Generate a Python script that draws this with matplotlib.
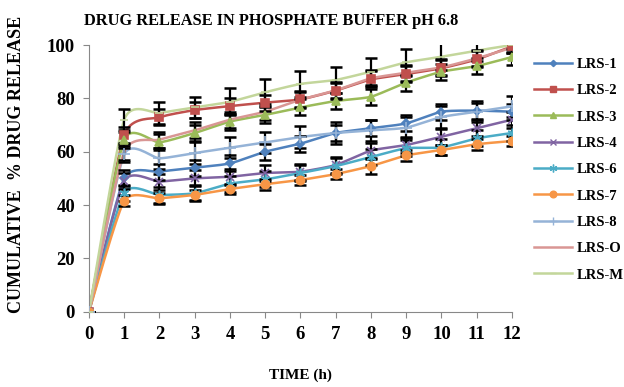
import numpy as np
import matplotlib
matplotlib.use("Agg")
import matplotlib.pyplot as plt

# time points (h)
time_h = [0, 1, 2, 3, 4, 5, 6, 7, 8, 9, 10, 11, 12]

# cumulative % drug release
lrs_1 = [0, 50.0, 52.5, 54.0, 55.6, 60.0, 63.0, 67.0, 68.8, 70.6, 75.0, 75.4, 75.0]
lrs_2 = [0, 66.3, 72.9, 75.6, 77.1, 78.4, 79.6, 82.9, 87.1, 89.1, 91.3, 94.6, 99.5]
lrs_3 = [0, 64.5, 63.5, 67.0, 71.3, 73.8, 76.6, 79.0, 80.6, 85.9, 90.0, 92.1, 95.5]
lrs_4 = [0, 49.0, 48.8, 50.0, 50.6, 52.0, 52.5, 55.0, 60.4, 62.5, 65.6, 68.8, 72.0]
lrs_6 = [0, 44.6, 43.8, 44.4, 48.0, 49.6, 52.0, 54.6, 58.0, 61.3, 61.6, 65.0, 67.0]
lrs_7 = [0, 41.6, 42.5, 43.8, 46.0, 47.8, 49.4, 51.6, 54.6, 58.6, 60.6, 62.8, 64.0]
lrs_8 = [0, 59.0, 57.5, 59.5, 61.5, 63.5, 65.5, 67.0, 68.0, 69.0, 73.0, 75.0, 77.0]
lrs_o = [0, 60.0, 64.5, 68.0, 72.0, 75.0, 79.5, 83.0, 87.5, 89.6, 91.6, 95.0, 99.0]
lrs_m = [0, 72.0, 74.5, 76.6, 78.7, 82.3, 85.4, 86.9, 90.0, 93.5, 95.6, 97.9, 100.0]

# standard deviations (approx.)
err_1 = [0, 3, 3, 3, 3, 3, 3, 3, 3, 3, 3, 3, 3]
err_2 = [0, 3, 3, 3, 3, 3, 3, 3, 3, 3, 3, 3, 2]
err_3 = [0, 3, 3, 3, 3, 3, 3, 3, 3, 3, 3, 3, 3]
err_4 = [0, 3, 3, 3, 3, 3, 3, 3, 3, 3, 3, 3, 3]
err_6 = [0, 3, 3, 3, 3, 3, 3, 3, 3, 3, 3, 3, 3]
err_7 = [0, 2, 2, 2, 2, 2, 2, 2, 3, 2, 2, 2, 2]
err_8 = [0, 3, 4, 4, 4, 4, 4, 4, 4, 4, 4, 4, 4]
err_o = [0, 3, 3, 3, 3, 3, 3, 3, 3, 3, 3, 3, 2]
err_m = [0, 4, 4, 4, 5, 5, 5, 5, 5, 5, 5, 4, 3]

labels = ["LRS-1", "LRS-2", "LRS-3", "LRS-4", "LRS-6", "LRS-7", "LRS-8", "LRS-O", "LRS-M"]
series = [lrs_1, lrs_2, lrs_3, lrs_4, lrs_6, lrs_7, lrs_8, lrs_o, lrs_m]
errors = [err_1, err_2, err_3, err_4, err_6, err_7, err_8, err_o, err_m]
colors = ["#4F81BD", "#C0504D", "#9BBB59", "#8064A2", "#4BACC6",
          "#F79646", "#95B3D7", "#D99694", "#C3D69B"]
markers = ["D", "s", "^", "x", (6, 2, 0), "o", "+", None, "_"]
msizes = [4, 6, 6, 6, 7, 6, 8, 0, 6]


def smooth(x, y, n=20, k=0.6):
    # cardinal spline through the points, like excel's smoothed lines
    x = np.asarray(x, float)
    y = np.asarray(y, float)
    px = np.concatenate([[x[0]], x, [x[-1]]])
    py = np.concatenate([[y[0]], y, [y[-1]]])
    xs, ys = [], []
    t = np.linspace(0, 1, n)
    h00 = 2 * t**3 - 3 * t**2 + 1
    h10 = t**3 - 2 * t**2 + t
    h01 = -2 * t**3 + 3 * t**2
    h11 = t**3 - t**2
    for i in range(1, len(px) - 2):
        for p, out in ((px, xs), (py, ys)):
            p0, p1, p2, p3 = p[i - 1], p[i], p[i + 1], p[i + 2]
            m1 = k * 0.5 * (p2 - p0)
            m2 = k * 0.5 * (p3 - p1)
            out.extend(h00 * p1 + h10 * m1 + h01 * p2 + h11 * m2)
    return xs, ys


plt.rcParams['font.family'] = ['Liberation Serif', 'DejaVu Serif']
plt.rcParams['font.weight'] = 'bold'

fig = plt.figure(figsize=(6.24, 3.87), dpi=100)
ax = fig.add_axes([0.1426, 0.1946, 0.6779, 0.6891])

handles = []
for vals, err, col, mk, ms, lab in zip(series, errors, colors, markers, msizes, labels):
    sx, sy = smooth(time_h, vals)
    ax.plot(sx, sy, color=col, lw=1.8, zorder=2)
    ax.errorbar(time_h, vals, yerr=err, fmt="none", ecolor="black",
                elinewidth=1.6, capsize=4, capthick=1.8, zorder=3)
    if mk is not None:
        ax.plot(time_h, vals, ls="none", marker=mk, ms=ms, color=col,
                mec=col, mew=1.2, zorder=4)
    h, = ax.plot([], [], color=col, lw=1.8, marker=mk, ms=ms * 0.8,
                 mec=col, mew=1.0)
    handles.append(h)

ax.set_xlim(0, 12)
ax.set_ylim(0, 100)
ax.set_xticks(time_h)
ax.set_yticks([0, 20, 40, 60, 80, 100])
for s in ["top", "right"]:
    ax.spines[s].set_visible(False)
for s in ["left", "bottom"]:
    ax.spines[s].set_color("#888888")
    ax.spines[s].set_linewidth(0.8)
ax.tick_params(colors="#888888", labelcolor="black", labelsize=13.5,
               length=4, width=0.8, direction="out", pad=6)
for t in ax.get_xticklabels() + ax.get_yticklabels():
    t.set_fontweight("bold")

fig.text(0.435, 0.945, "DRUG RELEASE IN PHOSPHATE BUFFER pH 6.8",
         ha="center", va="center", fontsize=11.8, fontweight="bold")
fig.text(0.482, 0.03, "TIME (h)", ha="center", va="center",
         fontsize=11, fontweight="bold")
fig.text(0.027, 0.575, "CUMULATIVE  % DRUG RELEASE", ha="center", va="center",
         rotation=90, fontsize=13, fontweight="bold")

fig.legend(handles, labels, loc="upper left", bbox_to_anchor=(0.835, 0.885),
           frameon=False, prop={"size": 10.5, "weight": "bold"},
           handlelength=2.6, labelspacing=0.9, handletextpad=0.3)

fig.savefig("out.png", dpi=100)
